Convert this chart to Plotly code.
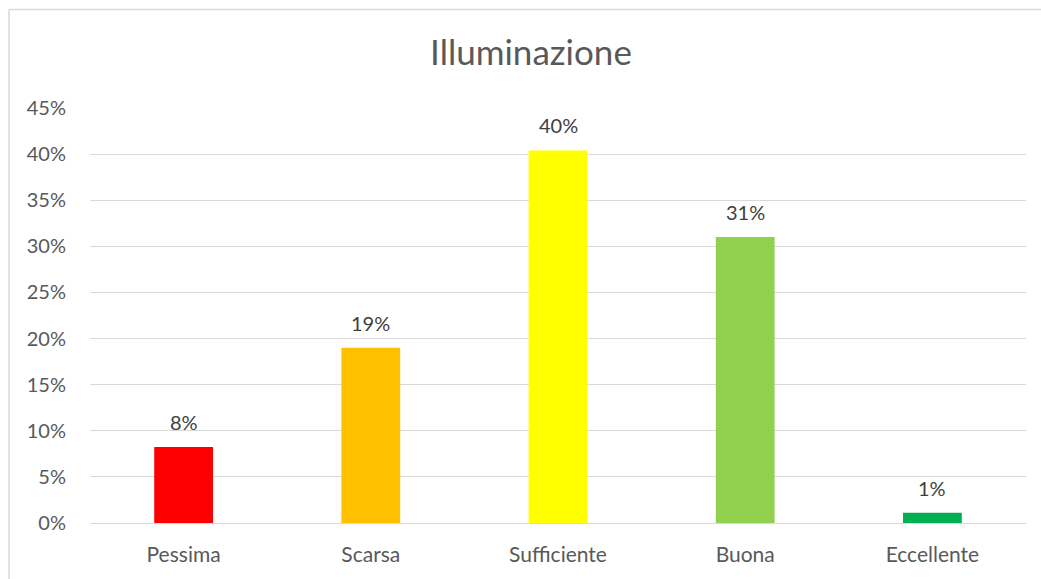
import plotly.graph_objects as go

categories = ["Pessima", "Scarsa", "Sufficiente", "Buona", "Eccellente"]
values = [0.0825, 0.19, 0.404, 0.31, 0.011]
colors = ["#FF0000", "#FFC000", "#FFFF00", "#92D050", "#00B050"]

FONT = "Lato"
W, H = 1041, 579
PLOT_L, PLOT_R, PLOT_T, PLOT_B = 90, 1026, 108, 523

fig = go.Figure()

fig.add_trace(go.Bar(
    x=categories,
    y=values,
    marker=dict(color=colors, line=dict(width=0)),
    hovertemplate="%{x}: %{y:.1%}<extra></extra>",
))

# data labels above bars
for cat, val in zip(categories, values):
    fig.add_annotation(
        x=cat, y=val,
        text=f"{val:.0%}",
        showarrow=False,
        yanchor="middle",
        yshift=25,
        font=dict(family=FONT, size=20, color="#404040"),
    )

plot_w = PLOT_R - PLOT_L
plot_h = PLOT_B - PLOT_T
frame_x = (9 - PLOT_L) / plot_w
frame_y = (PLOT_B - 9.5) / plot_h

fig.update_layout(
    width=W,
    height=H,
    paper_bgcolor="white",
    plot_bgcolor="white",
    margin=dict(l=PLOT_L, r=W - PLOT_R, t=PLOT_T, b=H - PLOT_B),
    bargap=0.686,
    showlegend=False,
    title=dict(
        text="Illuminazione",
        x=531 / W, xanchor="center", xref="container",
        y=1 - 53 / H, yanchor="middle", yref="container",
        font=dict(family=FONT, size=35, color="#595959"),
    ),
    xaxis=dict(
        showgrid=False,
        showline=False,
        ticks="",
        tickfont=dict(family=FONT, size=21, color="#595959"),
        ticklabelstandoff=17,
    ),
    yaxis=dict(
        range=[0, 0.45],
        dtick=0.05,
        tickformat=".0%",
        showgrid=True,
        gridcolor="#D9D9D9",
        gridwidth=1,
        zeroline=True,
        zerolinecolor="#D9D9D9",
        zerolinewidth=1,
        showline=False,
        ticks="",
        tickfont=dict(family=FONT, size=20, color="#595959"),
        ticklabelstandoff=23,
    ),
    # chart frame: only its top and left edges fall inside the picture
    shapes=[
        dict(type="line", xref="paper", yref="paper",
             x0=frame_x, x1=(W + 5 - PLOT_L) / plot_w, y0=frame_y, y1=frame_y,
             line=dict(color="#D9D9D9", width=1.5), layer="below"),
        dict(type="line", xref="paper", yref="paper",
             x0=frame_x, x1=frame_x, y0=-0.3, y1=frame_y,
             line=dict(color="#D9D9D9", width=1.5), layer="below"),
    ],
)

# drop the default body margin so the figure fills the window exactly
fig.write_html(
    "out.html",
    config={"displayModeBar": False},
    post_script="document.body.style.margin='0';document.body.style.overflow='hidden';",
)
